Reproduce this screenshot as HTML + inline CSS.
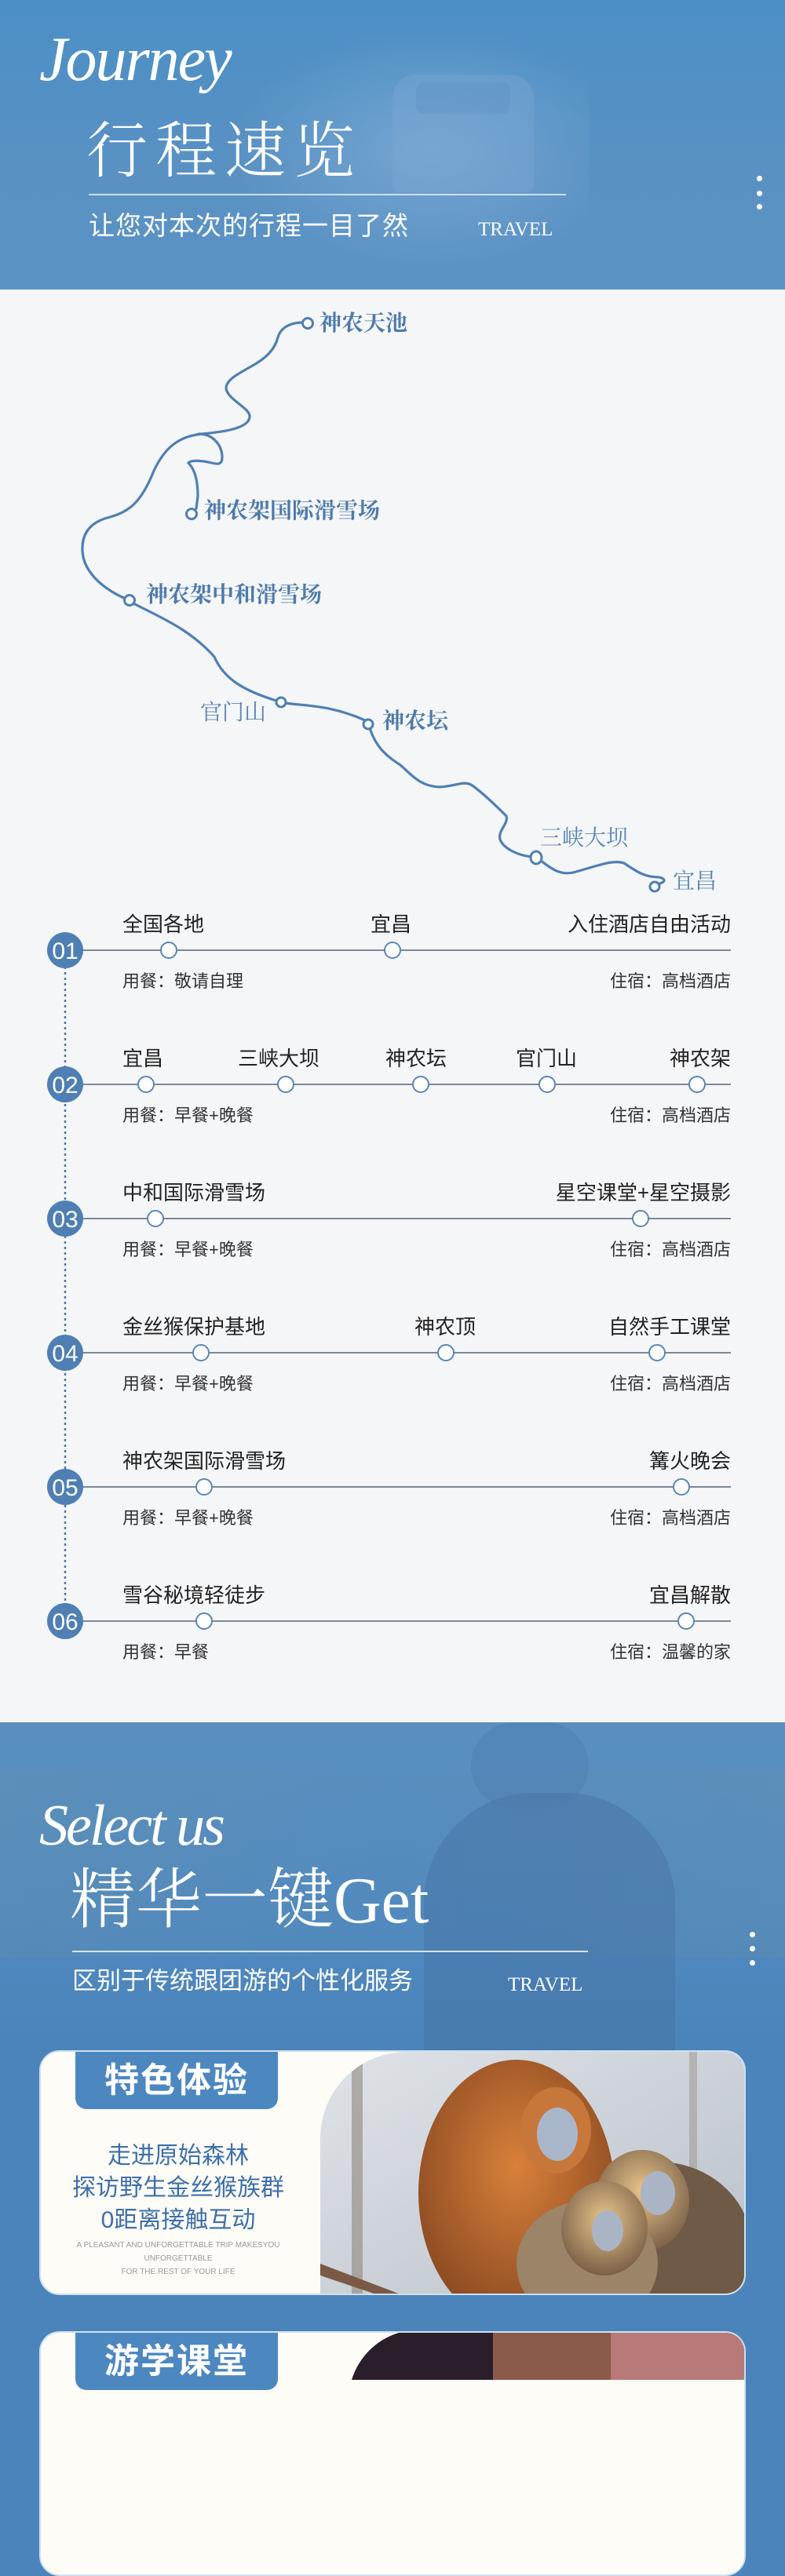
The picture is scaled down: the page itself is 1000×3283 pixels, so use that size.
<!DOCTYPE html>
<html><head><meta charset="utf-8">
<style>
*{margin:0;padding:0;box-sizing:border-box}
body{width:1000px;height:3000px;position:relative;overflow:hidden;background:#4a84ba;font-family:"Liberation Sans","Noto Sans CJK SC",sans-serif}
.a{position:absolute;white-space:nowrap}
.hd{left:0;top:0;width:1000px;height:369px;background:linear-gradient(180deg,#4b8fc6 0%,#5a91c3 60%,#5c93c6 100%);overflow:hidden}
.map{left:0;top:369px;width:1000px;height:1826px;background:#f5f6f8}
.t1{font-size:26px;color:#222;line-height:26px}
.s1{font-size:22px;color:#333;line-height:22px}
.ml{font-family:"Liberation Serif","Noto Serif CJK SC",serif;color:#4d7aab;font-size:28px;line-height:28px;font-weight:700}
.ml2{font-family:"Liberation Serif","Noto Serif CJK SC",serif;color:#5a85b5;font-size:28px;line-height:28px;font-weight:400}
.h2{left:0;top:2195px;width:1000px;height:420px;background:linear-gradient(180deg,#5a8fc0 0%,#5189bf 60%,#4a84ba 100%);overflow:hidden}
.card{left:50px;width:900px;height:312px;background:#fdfcf7;border-radius:26px;border:2px solid #cfe0ef;overflow:hidden}
.tab{position:absolute;left:44px;top:0;width:258px;height:73px;background:#4d87c0;border-radius:0 0 14px 14px;color:#fff;font-size:44px;font-weight:700;text-align:center;line-height:73px;letter-spacing:2px}
</style></head><body>

<div class="a hd">
  <div class="a" style="left:250px;top:40px;width:500px;height:330px;background:radial-gradient(ellipse at 60% 45%,rgba(150,190,225,.45),rgba(90,145,200,0) 60%)"></div>
  <div class="a" style="left:500px;top:95px;width:180px;height:150px;background:#7fa9d4;border-radius:30px 30px 10px 10px;opacity:.35"></div>
  <div class="a" style="left:530px;top:105px;width:120px;height:40px;background:#5d8fc2;border-radius:10px;opacity:.35"></div>
  <div class="a" style="left:50px;top:26px;font-family:'Liberation Serif',serif;font-style:italic;font-size:80px;color:#fff;line-height:100px;font-weight:300;letter-spacing:-2px">Journey</div>
  <div class="a" style="left:110px;top:143px;font-family:'Noto Serif CJK SC',serif;font-weight:300;font-size:78px;color:#fff;line-height:86px;letter-spacing:10px">行程速览</div>
  <div class="a" style="left:113px;top:247px;width:608px;height:2px;background:#cfe0f0"></div>
  <div class="a" style="left:113px;top:271px;font-size:33px;color:#fff;line-height:34px;letter-spacing:1px">让您对本次的行程一目了然</div>
  <div class="a" style="left:609px;top:281px;font-family:'Liberation Serif',serif;font-size:25px;color:#fff;line-height:24px">TRAVEL</div>
  <div class="a" style="left:964px;top:224px;width:7px;height:7px;border-radius:50%;background:#fff"></div>
  <div class="a" style="left:964px;top:243px;width:7px;height:7px;border-radius:50%;background:#fff"></div>
  <div class="a" style="left:964px;top:260px;width:7px;height:7px;border-radius:50%;background:#fff"></div>
</div>

<div class="a map"></div>
<svg class="a" style="left:0;top:0" width="1000" height="2200" viewBox="0 0 1000 2200">
  <g fill="none" stroke="#4f7fb3" stroke-width="3.2" stroke-linecap="round">
    <path d="M386 411 C372 411 358 416 354 430 C350 445 340 456 320 467 C300 478 288 485 288 495 C290 510 320 520 318 532 C316 545 290 550 257 553 C228 556 210 570 196 600 C180 640 165 652 140 659 C115 665 104 680 105 702 C106 725 125 748 162 764"/>
    <path d="M253 553 C272 553 283 568 283 583 C283 592 278 592 270 590 C262 588 244 585 240 590 C248 598 252 612 252 632 L250 648"/>
    <path d="M168 768 C200 785 240 800 273 837 C285 865 310 880 352 893"/>
    <path d="M364 896 C390 900 420 898 465 918"/>
    <path d="M471 928 C480 955 495 965 510 975 C525 988 535 1002 560 1003 C580 1002 590 995 600 1000 C615 1010 635 1030 645 1040 C648 1050 634 1058 637 1070 C642 1082 660 1090 677 1092"/>
    <path d="M689 1097 C700 1105 712 1116 730 1112 C760 1104 780 1095 795 1100 C810 1110 820 1118 840 1118 C848 1120 848 1124 840 1126"/>
  </g>
  <g fill="#fff" stroke="#4f7fb3" stroke-width="3">
    <circle cx="392" cy="412" r="6.5"/>
    <circle cx="244" cy="655" r="6.5"/>
    <circle cx="165" cy="765" r="6.5"/>
    <circle cx="358" cy="895" r="6"/>
    <circle cx="469" cy="923" r="6"/>
    <ellipse cx="683" cy="1093" rx="7" ry="8"/>
    <circle cx="834" cy="1130" r="6"/>
  </g>
  <line x1="83" y1="1211" x2="83" y2="2066" stroke="#4d79ab" stroke-width="2.5" stroke-dasharray="3 4"/>
  <g stroke="#7c8996" stroke-width="2">
    <line x1="83" y1="1211" x2="931" y2="1211"/>
    <line x1="83" y1="1382" x2="931" y2="1382"/>
    <line x1="83" y1="1553" x2="931" y2="1553"/>
    <line x1="83" y1="1724" x2="931" y2="1724"/>
    <line x1="83" y1="1895" x2="931" y2="1895"/>
    <line x1="83" y1="2066" x2="931" y2="2066"/>
  </g>
  <g fill="#4f7fb3">
    <circle cx="83" cy="1211" r="23"/><circle cx="83" cy="1382" r="23"/><circle cx="83" cy="1553" r="23"/>
    <circle cx="83" cy="1724" r="23"/><circle cx="83" cy="1895" r="23"/><circle cx="83" cy="2066" r="23"/>
  </g>
  <g fill="#fff" font-family="Liberation Sans Narrow, Liberation Sans, sans-serif" font-size="30" text-anchor="middle">
    <text x="83" y="1222">01</text><text x="83" y="1393">02</text><text x="83" y="1564">03</text>
    <text x="83" y="1735">04</text><text x="83" y="1906">05</text><text x="83" y="2077">06</text>
  </g>
  <g fill="#fff" stroke="#5b86b5" stroke-width="2">
    <circle cx="215" cy="1211" r="10"/><circle cx="500" cy="1211" r="10"/>
    <circle cx="186" cy="1382" r="10"/><circle cx="364" cy="1382" r="10"/><circle cx="536" cy="1382" r="10"/><circle cx="697" cy="1382" r="10"/><circle cx="888" cy="1382" r="10"/>
    <circle cx="198" cy="1553" r="10"/><circle cx="816" cy="1553" r="10"/>
    <circle cx="256" cy="1724" r="10"/><circle cx="568" cy="1724" r="10"/><circle cx="837" cy="1724" r="10"/>
    <circle cx="260" cy="1895" r="10"/><circle cx="868" cy="1895" r="10"/>
    <circle cx="260" cy="2066" r="10"/><circle cx="874" cy="2066" r="10"/>
  </g>
</svg>

<div class="a ml" style="left:407px;top:399px">神农天池</div>
<div class="a ml" style="left:260px;top:638px">神农架国际滑雪场</div>
<div class="a ml" style="left:186px;top:745px">神农架中和滑雪场</div>
<div class="a ml2" style="left:255px;top:895px">官门山</div>
<div class="a ml" style="left:487px;top:906px">神农坛</div>
<div class="a ml2" style="left:688px;top:1055px">三峡大坝</div>
<div class="a ml2" style="left:857px;top:1110px">宜昌</div>

<div class="a t1" style="left:156px;top:1165px">全国各地</div>
<div class="a t1" style="left:472px;top:1165px">宜昌</div>
<div class="a t1" style="right:69px;top:1165px">入住酒店自由活动</div>
<div class="a s1" style="left:156px;top:1240px">用餐：敬请自理</div>
<div class="a s1" style="right:69px;top:1240px">住宿：高档酒店</div>

<div class="a t1" style="left:156px;top:1336px">宜昌</div>
<div class="a t1" style="left:303px;top:1336px">三峡大坝</div>
<div class="a t1" style="left:491px;top:1336px">神农坛</div>
<div class="a t1" style="left:657px;top:1336px">官门山</div>
<div class="a t1" style="right:69px;top:1336px">神农架</div>
<div class="a s1" style="left:156px;top:1411px">用餐：早餐+晚餐</div>
<div class="a s1" style="right:69px;top:1411px">住宿：高档酒店</div>

<div class="a t1" style="left:156px;top:1507px">中和国际滑雪场</div>
<div class="a t1" style="right:69px;top:1507px">星空课堂+星空摄影</div>
<div class="a s1" style="left:156px;top:1582px">用餐：早餐+晚餐</div>
<div class="a s1" style="right:69px;top:1582px">住宿：高档酒店</div>

<div class="a t1" style="left:156px;top:1678px">金丝猴保护基地</div>
<div class="a t1" style="left:528px;top:1678px">神农顶</div>
<div class="a t1" style="right:69px;top:1678px">自然手工课堂</div>
<div class="a s1" style="left:156px;top:1753px">用餐：早餐+晚餐</div>
<div class="a s1" style="right:69px;top:1753px">住宿：高档酒店</div>

<div class="a t1" style="left:156px;top:1849px">神农架国际滑雪场</div>
<div class="a t1" style="right:69px;top:1849px">篝火晚会</div>
<div class="a s1" style="left:156px;top:1924px">用餐：早餐+晚餐</div>
<div class="a s1" style="right:69px;top:1924px">住宿：高档酒店</div>

<div class="a t1" style="left:156px;top:2020px">雪谷秘境轻徒步</div>
<div class="a t1" style="right:69px;top:2020px">宜昌解散</div>
<div class="a s1" style="left:156px;top:2095px">用餐：早餐</div>
<div class="a s1" style="right:69px;top:2095px">住宿：温馨的家</div>

<div class="a h2">
  <div class="a" style="left:0;top:60px;width:1000px;height:240px;background:linear-gradient(90deg,rgba(110,150,160,.2),rgba(90,140,180,.08) 50%,rgba(110,150,160,.2));"></div>
  <div class="a" style="left:540px;top:90px;width:320px;height:330px;background:#436f9f;border-radius:140px 140px 0 0;opacity:.4"></div>
  <div class="a" style="left:600px;top:0;width:150px;height:110px;background:#4a78a8;border-radius:60px;opacity:.3"></div>
  <div class="a" style="left:50px;top:87px;font-family:'Liberation Serif',serif;font-style:italic;font-size:74px;color:#fff;line-height:90px;letter-spacing:-3px">Select us</div>
  <div class="a" style="left:89px;top:183px;font-family:'Liberation Serif','Noto Serif CJK SC',serif;font-weight:300;font-size:84px;color:#fff;line-height:90px">精华一键Get</div>
  <div class="a" style="left:92px;top:291px;width:657px;height:2px;background:#d5e3f0"></div>
  <div class="a" style="left:92px;top:313px;font-size:31px;color:#fff;line-height:34px">区别于传统跟团游的个性化服务</div>
  <div class="a" style="left:647px;top:323px;font-family:'Liberation Serif',serif;font-size:25px;color:#fff;line-height:24px">TRAVEL</div>
  <div class="a" style="left:955px;top:267px;width:7px;height:7px;border-radius:50%;background:#fff"></div>
  <div class="a" style="left:955px;top:285px;width:7px;height:7px;border-radius:50%;background:#fff"></div>
  <div class="a" style="left:955px;top:303px;width:7px;height:7px;border-radius:50%;background:#fff"></div>
</div>

<div class="a card" style="top:2613px">
  <div class="tab">特色体验</div>
  <div class="a" style="left:0;width:350px;top:112px;text-align:center;color:#3e6fa8;font-size:30px;line-height:41px">走进原始森林<br>探访野生金丝猴族群<br>0距离接触互动</div>
  <div class="a" style="left:0;width:350px;top:238px;text-align:center;color:#999;font-size:10px;line-height:17px">A PLEASANT AND UNFORGETTABLE TRIP MAKESYOU<br>UNFORGETTABLE<br>FOR THE REST OF YOUR LIFE</div>
  <svg class="a" style="left:356px;top:0" width="544" height="312" viewBox="0 0 544 312">
    <defs>
      <clipPath id="c1"><path d="M110 0 H544 V312 H0 V110 A110 110 0 0 1 110 0Z"/></clipPath>
      <linearGradient id="bg1" x1="0" y1="0" x2="1" y2="1"><stop offset="0" stop-color="#dfe3e8"/><stop offset="1" stop-color="#b9c0c8"/></linearGradient>
      <radialGradient id="or" cx=".5" cy=".4" r=".6"><stop offset="0" stop-color="#d9803a"/><stop offset="1" stop-color="#8a4a22"/></radialGradient>
      <radialGradient id="yl" cx=".5" cy=".4" r=".6"><stop offset="0" stop-color="#e8c48a"/><stop offset="1" stop-color="#7a6048"/></radialGradient>
    </defs>
    <g clip-path="url(#c1)">
      <rect width="544" height="312" fill="url(#bg1)"/>
      <rect x="40" y="0" width="14" height="312" fill="#8d8680" opacity=".6"/>
      <rect x="470" y="0" width="10" height="312" fill="#9a948e" opacity=".5"/>
      <ellipse cx="250" cy="180" rx="125" ry="170" fill="url(#or)"/>
      <ellipse cx="300" cy="100" rx="45" ry="55" fill="#c8773a"/>
      <ellipse cx="302" cy="105" rx="26" ry="34" fill="#a9b6ca"/>
      <ellipse cx="430" cy="250" rx="120" ry="110" fill="#6f5a48"/>
      <ellipse cx="410" cy="190" rx="60" ry="65" fill="url(#yl)"/>
      <ellipse cx="430" cy="180" rx="22" ry="28" fill="#aab4c4"/>
      <ellipse cx="340" cy="270" rx="90" ry="80" fill="#9b8468"/>
      <ellipse cx="362" cy="225" rx="55" ry="60" fill="url(#yl)"/>
      <ellipse cx="366" cy="228" rx="20" ry="26" fill="#aab4c4"/>
      <path d="M0 270 L110 312 L80 312 L0 285Z" fill="#7a5a44"/>
    </g>
  </svg>
</div>

<div class="a card" style="top:2971px">
  <div class="tab">游学课堂</div>
  <svg class="a" style="left:396px;top:0" width="504" height="60"><path d="M60 0 H504 V60 H0 A90 90 0 0 1 60 0Z" fill="#2a1e2a"/><rect x="180" y="0" width="150" height="60" fill="#8a5a4a"/><rect x="330" y="0" width="174" height="60" fill="#b87a78"/></svg>
</div>
</body></html>
